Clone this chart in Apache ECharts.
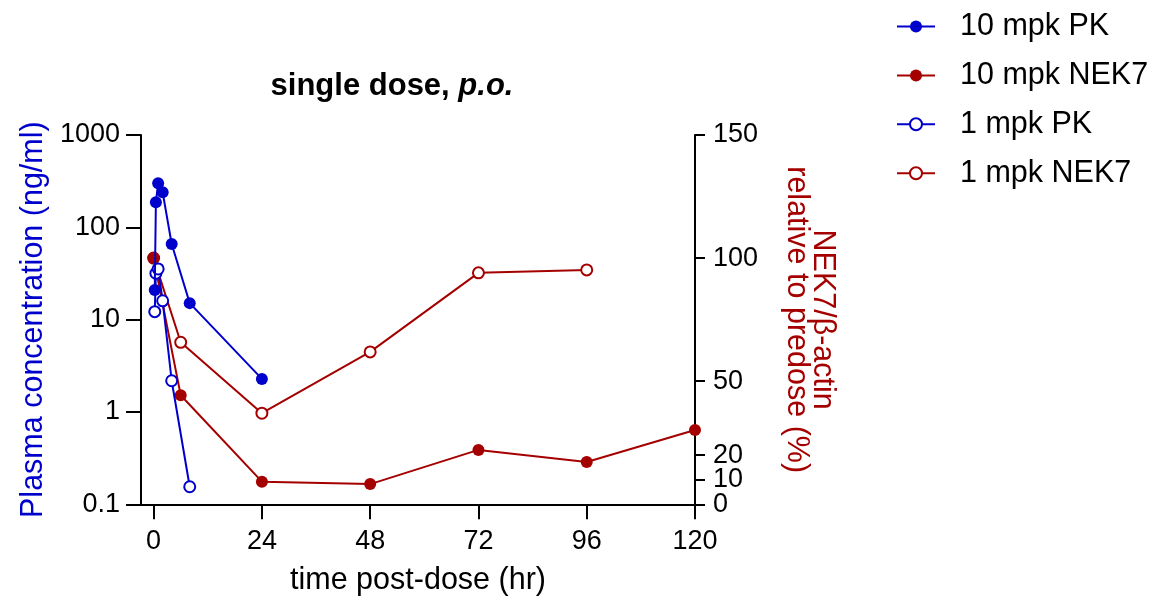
<!DOCTYPE html>
<html>
<head>
<meta charset="utf-8">
<script src="https://cdn.jsdelivr.net/npm/echarts@6/dist/echarts.min.js"></script>
<style>
  html, body { margin: 0; padding: 0; background: #fff; }
  #chart { width: 1153px; height: 597px; }
</style>
</head>
<body>
<div id="chart"></div>
<script>
// Plasma concentration (left, log) and NEK7 level (right, %) after a single oral dose
const timePK10 = [0.25, 0.5, 1, 2, 4, 8, 24];
const pk10 = [21, 187, 301, 240, 66, 15.1, 2.28];

const timePK1 = [0.25, 0.5, 1, 2, 4, 8];
const pk1 = [12.2, 31.8, 35.4, 16.0, 2.18, 0.155];

const timeNEK10 = [0, 6, 24, 48, 72, 96, 120];
const nek10 = [100, 44.3, 9.2, 8.2, 22.1, 17.2, 30.2];

const timeNEK1 = [0, 6, 24, 48, 72, 96];
const nek1 = [100, 65.8, 37.0, 61.9, 94.0, 95.2];

const xTicks = [0, 24, 48, 72, 96, 120];
const rightTicks = [0, 10, 20, 50, 100, 150];
const seriesNames = ['10 mpk PK', '10 mpk NEK7', '1 mpk PK', '1 mpk NEK7'];

const BLUE = '#0000cc';
const RED = '#a50000';
const FONT = "'Liberation Sans', Arial, Helvetica, sans-serif";
const TICK_FONT = 27;
const NAME_FONT = 30.5;

const pairs = (xs, ys) => xs.map((x, i) => [x, ys[i]]);

const axisLineStyle = { color: '#000', width: 2 };

// The 0 and 10 ticks on the right axis sit close together; the built-in
// overlap check would drop one, so alternate ticks go on a twin axis.
const rightTicksA = rightTicks.filter((v, i) => i % 2 === 0);
const rightTicksB = rightTicks.filter((v, i) => i % 2 === 1);

function lineSeries(name, xs, ys, color, yIndex, filled, z) {
  return {
    name: name,
    type: 'line',
    yAxisIndex: yIndex,
    data: pairs(xs, ys),
    symbol: filled ? 'circle' : 'emptyCircle',
    symbolSize: filled ? 12 : 11,
    showSymbol: true,
    z: z,
    lineStyle: { color: color, width: 2 },
    itemStyle: filled
      ? { color: color }
      : { color: color, borderColor: color, borderWidth: 1.8 },
    emphasis: { disabled: true },
    animation: false
  };
}

function rightAxis(ticks, showLine, name) {
  return {
    type: 'value',
    min: 0,
    max: 150,
    position: 'right',
    name: name,
    nameLocation: 'middle',
    nameRotate: -90,
    nameGap: 88,
    nameTextStyle: { fontFamily: FONT, fontSize: NAME_FONT, color: RED, lineHeight: 26 },
    splitLine: { show: false },
    axisLine: { show: showLine, onZero: false, lineStyle: axisLineStyle },
    axisTick: { show: true, length: 10, lineStyle: axisLineStyle, customValues: ticks },
    axisLabel: {
      fontFamily: FONT, fontSize: TICK_FONT, color: '#000', margin: 18,
      customValues: ticks, showMinLabel: true, showMaxLabel: true
    }
  };
}

const chart = echarts.init(document.getElementById('chart'));
chart.setOption({
  animation: false,
  backgroundColor: '#fff',
  textStyle: { fontFamily: FONT },
  title: {
    text: '{a|single dose, }{b|p.o.}',
    left: 387,
    top: 66,
    textAlign: 'center',
    textStyle: {
      rich: {
        a: { fontFamily: FONT, fontSize: 31, fontWeight: 'bold', color: '#000' },
        b: { fontFamily: FONT, fontSize: 31, fontWeight: 'bold', fontStyle: 'italic', color: '#000' }
      }
    }
  },
  legend: {
    data: seriesNames,
    orient: 'vertical',
    left: 896,
    top: 11,
    padding: 0,
    itemWidth: 38,
    itemHeight: 15,
    itemGap: 17.9,
    selectedMode: false,
    textStyle: { fontFamily: FONT, fontSize: NAME_FONT, color: '#000', lineHeight: 30, padding: [0, 0, 0, 20] }
  },
  grid: { left: 141, right: 458, top: 135, bottom: 92.7, containLabel: false, outerBoundsMode: 'none' },
  xAxis: {
    type: 'value',
    min: -2.8,
    max: 120,
    name: 'time post-dose (hr)',
    nameLocation: 'middle',
    nameGap: 61,
    nameTextStyle: { fontFamily: FONT, fontSize: NAME_FONT, color: '#000' },
    splitLine: { show: false },
    axisLine: { show: true, onZero: false, lineStyle: axisLineStyle },
    axisTick: { show: true, length: 15, lineStyle: axisLineStyle, customValues: xTicks },
    axisLabel: { fontFamily: FONT, fontSize: TICK_FONT, color: '#000', margin: 24, customValues: xTicks }
  },
  yAxis: [
    {
      type: 'log',
      logBase: 10,
      min: 0.1,
      max: 1000,
      position: 'left',
      name: 'Plasma concentration (ng/ml)',
      nameLocation: 'middle',
      nameRotate: 90,
      nameGap: 92,
      nameTextStyle: { fontFamily: FONT, fontSize: NAME_FONT, color: BLUE },
      splitLine: { show: false },
      minorTick: { show: false },
      axisLine: { show: true, onZero: false, lineStyle: axisLineStyle },
      axisTick: { show: true, length: 15, lineStyle: axisLineStyle },
      axisLabel: {
        fontFamily: FONT, fontSize: TICK_FONT, color: '#000', margin: 21,
        formatter: v => String(+Number(v).toPrecision(6))
      }
    },
    rightAxis(rightTicksA, true, 'NEK7/β-actin\nrelative to predose (%)'),
    rightAxis(rightTicksB, false, '')
  ],
  series: [
    lineSeries('10 mpk PK', timePK10, pk10, BLUE, 0, true, 5),
    lineSeries('10 mpk NEK7', timeNEK10, nek10, RED, 1, true, 3),
    lineSeries('1 mpk PK', timePK1, pk1, BLUE, 0, false, 4),
    lineSeries('1 mpk NEK7', timeNEK1, nek1, RED, 1, false, 2)
  ]
});
</script>
</body>
</html>
